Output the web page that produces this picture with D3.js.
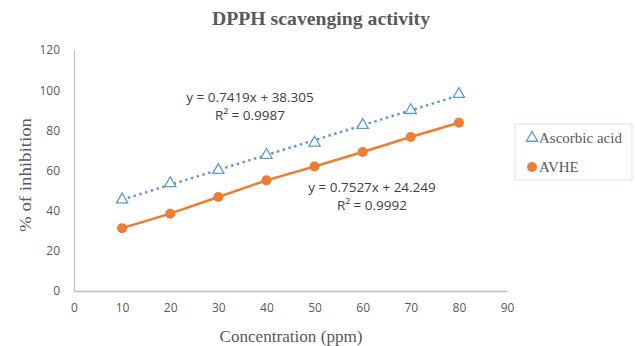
<!DOCTYPE html>
<html>
<head>
<meta charset="utf-8">
<script src="https://cdn.jsdelivr.net/npm/d3@7"></script>
<style>
  body { margin: 0; background: #fff; }
  svg { display: block; }
</style>
</head>
<body>
<svg></svg>
<script>
let w = 635;
let h = 346;

// data
const concentrations = [10, 20, 30, 40, 50, 60, 70, 80];
const ascorbicAcid = [45.5, 53.6, 60.2, 67.7, 73.8, 82.6, 90.0, 98.0];
const avhe = [31.3, 38.5, 46.8, 55.1, 62.0, 69.2, 76.7, 83.8];
const xTicks = [0, 10, 20, 30, 40, 50, 60, 70, 80, 90];
const yTicks = [0, 20, 40, 60, 80, 100, 120];
const seriesNames = ['Ascorbic acid', 'AVHE'];
const equations = [
  ['y = 0.7419x + 38.305', 'R² = 0.9987'],
  ['y = 0.7527x + 24.249', 'R² = 0.9992']
];

const svg = d3.select('svg')
  .attr('width', w)
  .attr('height', h)

const xScale = d3.scaleLinear().domain([0, 90]).range([74, 507]);
const yScale = d3.scaleLinear().domain([0, 120]).range([291, 50]);

const serif = '"Liberation Serif", "Times New Roman", serif';
const sans = '"Open Sans", sans-serif';

// title
svg.append('text')
  .attr('x', 321).attr('y', 25)
  .attr('text-anchor', 'middle')
  .attr('textLength', 218)
  .attr('lengthAdjust', 'spacingAndGlyphs')
  .style('font-family', serif)
  .style('font-weight', 'bold')
  .style('font-size', '19px')
  .style('fill', '#595959')
  .text('DPPH scavenging activity')

// axes
const xAxis = d3.axisBottom(xScale).tickValues(xTicks).tickSize(0).tickPadding(12);
const gx = svg.append('g')
  .attr('transform', 'translate(0,' + yScale(0) + ')')
  .call(xAxis)

const yAxis = d3.axisLeft(yScale).tickValues(yTicks).tickSize(0).tickPadding(14);
const gy = svg.append('g')
  .attr('transform', 'translate(' + xScale(0) + ',0)')
  .call(yAxis)

for (const g of [gx, gy]) {
  g.select('.domain').attr('stroke', '#bfbfbf').attr('stroke-width', 1.3)
  g.selectAll('text')
    .style('font-family', sans)
    .style('font-size', '12px')
    .style('fill', '#595959')
}

// axis titles
svg.append('text')
  .attr('x', 291).attr('y', 342)
  .attr('text-anchor', 'middle')
  .attr('textLength', 143)
  .attr('lengthAdjust', 'spacingAndGlyphs')
  .style('font-family', serif)
  .style('font-size', '16px')
  .style('fill', '#595959')
  .text('Concentration (ppm)')

svg.append('text')
  .attr('transform', 'translate(31,175) rotate(-90)')
  .attr('text-anchor', 'middle')
  .attr('textLength', 114)
  .attr('lengthAdjust', 'spacingAndGlyphs')
  .style('font-family', serif)
  .style('font-size', '16px')
  .style('fill', '#595959')
  .text('% of inhibition')

// linear fit for the ascorbic acid trendline
function fit(xs, ys) {
  const mx = d3.mean(xs), my = d3.mean(ys);
  const b = d3.sum(xs, (x, i) => (x - mx) * (ys[i] - my)) / d3.sum(xs, x => (x - mx) ** 2);
  return x => my + b * (x - mx);
}
const trend = fit(concentrations, ascorbicAcid);
const x0 = d3.min(concentrations), x1 = d3.max(concentrations);

svg.append('line')
  .attr('x1', xScale(x0)).attr('y1', yScale(trend(x0)))
  .attr('x2', xScale(x1)).attr('y2', yScale(trend(x1)))
  .attr('stroke', '#5b9bd5')
  .attr('stroke-width', 2.5)
  .attr('stroke-dasharray', '2.5,3.5')

// AVHE line
const line = d3.line()
  .x((d, i) => xScale(concentrations[i]))
  .y(d => yScale(d))

svg.append('path')
  .datum(avhe)
  .attr('d', line)
  .attr('fill', 'none')
  .attr('stroke', '#ed7d31')
  .attr('stroke-width', 2.5)

// markers
const tri = d3.symbol().type(d3.symbolTriangle).size(55);

svg.selectAll('.tri')
  .data(ascorbicAcid)
  .enter()
  .append('path')
  .attr('class', 'tri')
  .attr('d', tri)
  .attr('transform', (d, i) => 'translate(' + xScale(concentrations[i]) + ',' + yScale(d) + ')')
  .attr('fill', '#fff')
  .attr('stroke', '#5b9bd5')
  .attr('stroke-width', 1.3)

svg.selectAll('.dot')
  .data(avhe)
  .enter()
  .append('circle')
  .attr('class', 'dot')
  .attr('cx', (d, i) => xScale(concentrations[i]))
  .attr('cy', d => yScale(d))
  .attr('r', 5)
  .attr('fill', '#ed7d31')

// equation labels
const eqPos = [[250, 102], [372, 192]];
equations.forEach((lines, k) => {
  lines.forEach((t, j) => {
    svg.append('text')
      .attr('x', eqPos[k][0]).attr('y', eqPos[k][1] + j * 18)
      .attr('text-anchor', 'middle')
      .style('font-family', sans)
      .style('font-size', '13.5px')
      .style('fill', '#404040')
      .text(t)
  })
})

// legend
svg.append('rect')
  .attr('x', 515).attr('y', 124)
  .attr('width', 117).attr('height', 56)
  .attr('fill', '#fff')
  .attr('stroke', '#d6e4f3')

svg.append('path')
  .attr('d', tri)
  .attr('transform', 'translate(532,138)')
  .attr('fill', '#fff')
  .attr('stroke', '#5b9bd5')
  .attr('stroke-width', 1.3)

svg.append('circle')
  .attr('cx', 532).attr('cy', 167).attr('r', 5)
  .attr('fill', '#ed7d31')

seriesNames.forEach((n, i) => {
  svg.append('text')
    .attr('x', 539).attr('y', 143 + i * 29)
    .style('font-family', serif)
    .style('font-size', '15px')
    .style('fill', '#595959')
    .text(n)
})
</script>
</body>
</html>
